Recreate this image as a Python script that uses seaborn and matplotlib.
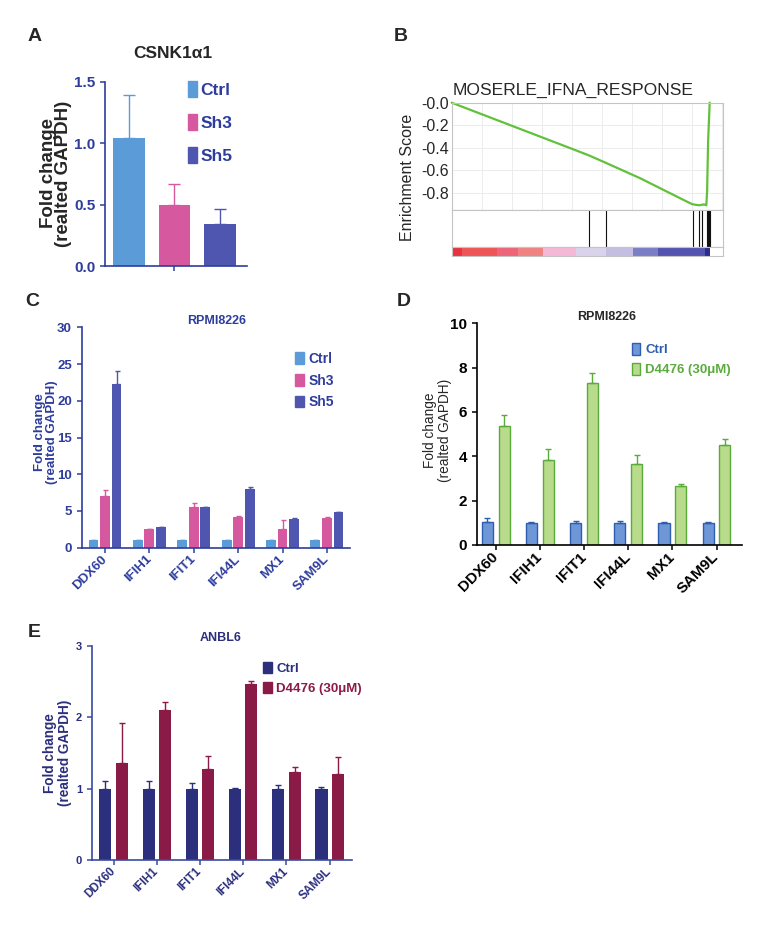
import numpy as np
import pandas as pd
import matplotlib.pyplot as plt
import seaborn as sns
from matplotlib.patches import Patch

# ---- A: CSNK1a1 knockdown ----
a_groups = ["Ctrl", "Sh3", "Sh5"]
a_values = [1.04, 0.50, 0.345]
a_errors = [0.35, 0.165, 0.115]

# ---- genes shared by C, D, E ----
genes = ["DDX60", "IFIH1", "IFIT1", "IFI44L", "MX1", "SAM9L"]

# ---- C: RPMI8226 shRNA ----
c_groups = ["Ctrl", "Sh3", "Sh5"]
c_ctrl = [1.05, 1.0, 1.0, 1.0, 1.0, 1.05]
c_sh3 = [7.08, 2.50, 5.49, 4.17, 2.50, 4.04]
c_sh5 = [22.28, 2.77, 5.49, 7.99, 3.95, 4.81]
c_ctrl_err = [0.03, 0.03, 0.03, 0.03, 0.03, 0.03]
c_sh3_err = [0.75, 0.05, 0.55, 0.08, 1.27, 0.08]
c_sh5_err = [1.75, 0.05, 0.10, 0.22, 0.08, 0.05]

# ---- D: RPMI8226 + D4476 ----
d_groups = ["Ctrl", "D4476 (30μM)"]
d_ctrl = [1.02, 1.0, 1.0, 1.0, 1.0, 1.0]
d_drug = [5.37, 3.83, 7.32, 3.67, 2.66, 4.50]
d_ctrl_err = [0.18, 0.05, 0.10, 0.10, 0.03, 0.04]
d_drug_err = [0.49, 0.49, 0.42, 0.40, 0.09, 0.27]

# ---- E: ANBL6 + D4476 ----
e_groups = ["Ctrl", "D4476 (30μM)"]
e_ctrl = [1.0, 1.0, 1.0, 1.0, 1.0, 1.0]
e_drug = [1.355, 2.10, 1.28, 2.467, 1.238, 1.205]
e_ctrl_err = [0.11, 0.11, 0.08, 0.01, 0.056, 0.03]
e_drug_err = [0.56, 0.115, 0.18, 0.047, 0.07, 0.244]

# ---- B: GSEA running enrichment score ----
n_genes = 21500
es_rank = [0, 4515, 10060, 11460, 12840, 15700, 19500, 20060, 20620,
           21030, 21220, 21285, 21370, 21500]
es_score = [0, -0.185, -0.412, -0.47, -0.535, -0.672, -0.875, -0.904,
            -0.913, -0.905, -0.913, -0.79, -0.34, 0]
es_ticks = [0, -0.2, -0.4, -0.6, -0.8]
es_ticklabels = ["-0.0", "-0.2", "-0.4", "-0.6", "-0.8"]
hit_ranks = [11460, 12840, 20100, 20620, 20850, 21310, 21370, 21435, 21500]
rank_bins = [0, 840, 3805, 5547, 7633, 10342, 12836, 15115, 17200, 21092, 21500]
rank_colors = ["#e8323e", "#ef5557", "#ee6478", "#f08282", "#f5b8d6",
               "#d9d4ec", "#c4bfe2", "#7b7ec6", "#5454b0", "#2b2c8c"]

W, H = 764, 927
sns.set_style("ticks")
plt.rcParams["font.family"] = ["Liberation Sans", "DejaVu Sans"]

fig = plt.figure(figsize=(W / 100, H / 100), dpi=100)


def px_axes(left, top, right, bottom, **kw):
    return fig.add_axes([left / W, 1 - bottom / H, (right - left) / W, (bottom - top) / H], **kw)


def px_text(x, y, s, size, **kw):
    fig.text(x / W, 1 - y / H, s, fontsize=size, ha=kw.pop("ha", "center"),
             va=kw.pop("va", "center"), **kw)


def bar_panel(ax, cats, labels, series, errors, fills, edges, width, gap, capsize, lw=0):
    df = pd.DataFrame({
        "gene": [g for s in series for g in cats],
        "group": [lab for lab, s in zip(labels, series) for _ in s],
        "value": [v for s in series for v in s],
    })
    sns.barplot(data=df, x="gene", y="value", hue="group", hue_order=labels,
                palette=fills, width=width, gap=gap, errorbar=None,
                saturation=1, legend=False, linewidth=lw, ax=ax)
    for bars, err, ec in zip(ax.containers, errors, edges):
        xs = [b.get_x() + b.get_width() / 2 for b in bars]
        ys = [b.get_height() for b in bars]
        for b in bars:
            b.set_edgecolor(ec)
        ax.errorbar(xs, ys, yerr=[np.zeros(len(err)), err], fmt="none",
                    ecolor=ec, elinewidth=1, capsize=capsize, capthick=1, zorder=3)


def style_axes(ax, spine, xlim, ylim, yticks, tick_fs, tick_color):
    sns.despine(ax=ax)
    for side in ["left", "bottom"]:
        ax.spines[side].set_color(spine)
        ax.spines[side].set_linewidth(1.2)
    ax.set_xlim(xlim)
    ax.set_ylim(ylim)
    ax.set_yticks(yticks)
    ax.tick_params(colors=spine, length=3.5, width=1.1, labelsize=tick_fs,
                   labelcolor=tick_color)
    for t in ax.get_yticklabels():
        t.set_fontweight("bold")
    ax.set_xlabel("")
    ax.set_ylabel("")


def legend(ax, labels, fills, edges, colors, x, y, size, hl, hh, tp, ls):
    handles = [Patch(facecolor=f, edgecolor=e, linewidth=1) for f, e in zip(fills, edges)]
    lg = ax.legend(handles, labels, loc="upper left", bbox_to_anchor=(x / W, 1 - y / H),
                   bbox_transform=fig.transFigure, frameon=False, borderpad=0,
                   borderaxespad=0, handlelength=hl, handleheight=hh,
                   handletextpad=tp, labelspacing=ls,
                   prop={"size": size, "weight": "bold"})
    for t, c in zip(lg.get_texts(), colors):
        t.set_color(c)


def gene_ticks(ax, size, color):
    ax.set_xticks(range(len(genes)))
    ax.set_xticklabels(genes, rotation=45, ha="right", va="center",
                       rotation_mode="anchor", fontweight="bold",
                       fontsize=size, color=color)


blue_txt = "#2e3d9c"
navy = "#2b2f7c"
maroon = "#8a1a46"
c_fill = ["#5b9bd8", "#d6589f", "#4f56b0"]

# ---------------- A ----------------
ax_a = px_axes(105, 81.7, 247, 266)
bar_panel(ax_a, ["CSNK1α1"], a_groups, [[v] for v in a_values], [[e] for e in a_errors],
          c_fill, c_fill, 0.9, 0.31, 4)
style_axes(ax_a, blue_txt, (-0.457, 0.477), (0, 1.5), [0, 0.5, 1.0, 1.5], 11, blue_txt)
ax_a.set_yticklabels(["0.0", "0.5", "1.0", "1.5"], fontweight="bold")
ax_a.set_xticks([0])
ax_a.set_xticklabels([""])
legend(ax_a, a_groups, c_fill, c_fill, [blue_txt] * 3, 188, 81, 12.5, 0.52, 1.03, 0.2, 0.92)
px_text(35, 36.3, "A", 14, fontweight="bold")
px_text(173, 53.5, "CSNK1α1", 12.5, fontweight="bold")
px_text(56, 173.5, "Fold change\n(realted GAPDH)", 13.5, fontweight="bold",
        rotation=90, linespacing=0.88)

# ---------------- B ----------------
xmax = n_genes * 1.0516
ax_es = px_axes(451.7, 102.7, 723, 210)
sns.lineplot(x=es_rank, y=es_score, color="#62c13a", linewidth=1.6, sort=False,
             estimator=None, ax=ax_es, clip_on=False)
ax_es.set_xlim(0, xmax)
ax_es.set_ylim(-0.955, 0)
ax_es.set_xticks(np.arange(0, xmax, 2500))
ax_es.set_yticks(es_ticks)
ax_es.set_yticklabels(es_ticklabels)
ax_es.grid(True, color="#ececec", linewidth=0.7)
ax_es.tick_params(axis="x", length=0, labelbottom=False)
ax_es.tick_params(axis="y", length=0, pad=2, labelsize=11.5)
ax_es.set_xlabel("")
ax_es.set_ylabel("")

ax_hit = px_axes(451.7, 210, 723, 246.7)
ax_hit.vlines(hit_ranks, 0, 1, color="#111111", linewidth=0.8)
ax_hit.set_xlim(0, xmax)
ax_hit.set_ylim(0, 1)
ax_hit.set_xticks([])
ax_hit.set_yticks([])

ax_rk = px_axes(451.7, 246.7, 723, 256)
ax_rk.barh(0.5, np.diff(rank_bins), left=rank_bins[:-1], height=1,
           color=rank_colors, edgecolor="none")
ax_rk.set_xlim(0, xmax)
ax_rk.set_ylim(0, 1)
ax_rk.set_xticks([])
ax_rk.set_yticks([])
for a in (ax_es, ax_hit, ax_rk):
    for s in a.spines.values():
        s.set_color("#c4c4c4")
        s.set_linewidth(0.8)
px_text(400.5, 36.7, "B", 14, fontweight="bold")
px_text(573.3, 90.3, "MOSERLE_IFNA_RESPONSE", 12.6)
px_text(407, 177.5, "Enrichment Score", 11.5, rotation=90)

# ---------------- C ----------------
ax_c = px_axes(81.7, 327.3, 350, 547.7)
bar_panel(ax_c, genes, c_groups, [c_ctrl, c_sh3, c_sh5],
          [c_ctrl_err, c_sh3_err, c_sh5_err], c_fill, c_fill, 0.78, 0.15, 1.8)
style_axes(ax_c, blue_txt, (-0.525, 5.52), (0, 30), [0, 5, 10, 15, 20, 25, 30], 9.5, blue_txt)
gene_ticks(ax_c, 9.5, blue_txt)
legend(ax_c, c_groups, c_fill, c_fill, [blue_txt] * 3, 295, 352, 10, 0.65, 0.91, 0.3, 0.55)
px_text(32.5, 301.7, "C", 14, fontweight="bold")
px_text(216.7, 321, "RPMI8226", 9, fontweight="bold", color=blue_txt)
px_text(46, 431.7, "Fold change\n(realted GAPDH)", 9.5, fontweight="bold",
        rotation=90, linespacing=1.05, color=blue_txt)

# ---------------- D ----------------
d_fill = ["#6f97d8", "#b8db8c"]
d_edge = ["#2d5fae", "#5aab3c"]
ax_d = px_axes(476.7, 323.3, 741.7, 545)
bar_panel(ax_d, genes, d_groups, [d_ctrl, d_drug], [d_ctrl_err, d_drug_err],
          d_fill, d_edge, 0.76, 0.34, 2.4, lw=1)
style_axes(ax_d, "black", (-0.43, 5.57), (0, 10), [0, 2, 4, 6, 8, 10], 11, "black")
gene_ticks(ax_d, 11, "black")
legend(ax_d, d_groups, d_fill, d_edge, d_edge, 632, 343, 9.5, 0.64, 1.0, 0.38, 0.5)
px_text(403.3, 301.7, "D", 14, fontweight="bold")
px_text(606.7, 316.7, "RPMI8226", 9, fontweight="bold")
px_text(437.5, 430, "Fold change\n(realted GAPDH)", 9.8,
        rotation=90, linespacing=1.05)

# ---------------- E ----------------
e_fill = [navy, maroon]
ax_e = px_axes(91.7, 646, 351.7, 860)
bar_panel(ax_e, genes, e_groups, [e_ctrl, e_drug], [e_ctrl_err, e_drug_err],
          e_fill, e_fill, 0.756, 0.26, 2.2)
style_axes(ax_e, "#3a4aa0", (-0.505, 5.51), (0, 3), [0, 1, 2, 3], 8, navy)
gene_ticks(ax_e, 8.5, navy)
legend(ax_e, e_groups, e_fill, e_fill, [navy, maroon], 262.7, 662, 9.5, 0.68, 0.9, 0.33, 0.55)
px_text(34.2, 632.5, "E", 14, fontweight="bold")
px_text(221, 638, "ANBL6", 9, fontweight="bold", color=navy)
px_text(57.5, 753.3, "Fold change\n(realted GAPDH)", 9.8, fontweight="bold",
        rotation=90, linespacing=1.05, color=navy)

fig.savefig("out.png", dpi=100)
